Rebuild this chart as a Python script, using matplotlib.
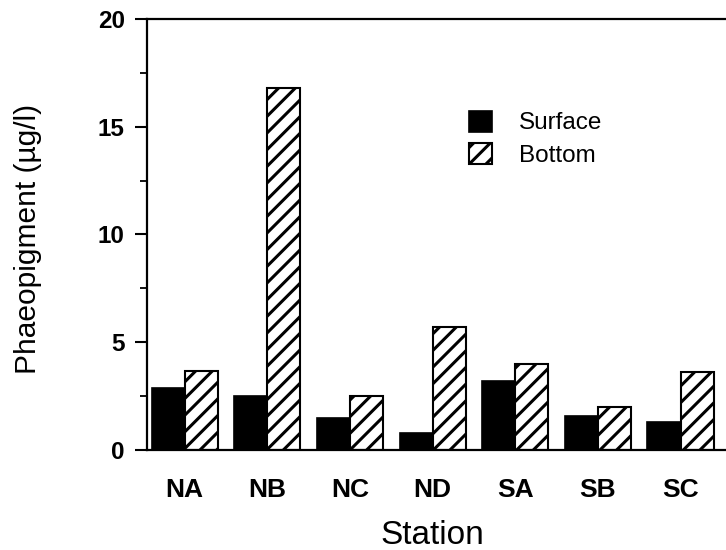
import matplotlib
matplotlib.use("Agg")
import matplotlib.pyplot as plt
import numpy as np

# station data
stations = ["NA", "NB", "NC", "ND", "SA", "SB", "SC"]
surface = [2.9, 2.5, 1.5, 0.8, 3.2, 1.6, 1.3]
bottom = [3.65, 16.8, 2.5, 5.7, 4.0, 2.0, 3.6]
y_ticks = [0, 5, 10, 15, 20]

plt.rcParams["font.family"] = ["Liberation Sans", "DejaVu Sans"]
plt.rcParams["hatch.linewidth"] = 2.2
plt.rcParams["hatch.color"] = "black"


def draw_chart():
    fig = plt.figure(figsize=(7.26, 5.5), dpi=100)
    # axes placed by pixel: left 147, top 19, bottom 450, runs off the right edge
    ax = fig.add_axes([147 / 726, 100 / 550, 1 - 147 / 726, 431 / 550])

    x = np.arange(len(stations))
    w = 0.4
    ax.bar(x - w / 2, surface, w, color="black", edgecolor="black",
           linewidth=1.2, label="Surface")
    ax.bar(x + w / 2, bottom, w, color="white", edgecolor="black",
           linewidth=1.5, hatch="//", label="Bottom")

    ax.set_xlim(-0.456, 6.55)
    ax.set_ylim(0, 20)

    # axes styling like the old print figure
    for side in ["left", "bottom", "top"]:
        ax.spines[side].set_linewidth(1.6)
    ax.spines["right"].set_visible(False)

    ax.set_yticks(y_ticks)
    ax.set_yticks(np.arange(0, 20.1, 2.5), minor=True)
    ax.tick_params(axis="y", which="major", direction="out", length=9,
                   width=1.5, labelsize=17.5, pad=7)
    ax.tick_params(axis="y", which="minor", direction="out", length=5,
                   width=1.3)
    for lbl in ax.get_yticklabels():
        lbl.set_fontweight("bold")

    ax.set_xticks(x)
    ax.set_xticklabels(stations, fontsize=19, fontweight="bold")
    ax.tick_params(axis="x", length=0, pad=20)

    ax.set_xlabel("Station", fontsize=24)
    ax.xaxis.set_label_coords(0.492, -0.163)
    ax.set_ylabel("Phaeopigment (\u00b5g/l)", fontsize=21.5)
    ax.yaxis.set_label_coords(-0.182, 0.49)

    ax.legend(loc="upper left", bbox_to_anchor=(0.54, 0.81), frameon=False,
              borderaxespad=0, fontsize=17.5, handlelength=0.95,
              handleheight=0.95, handletextpad=1.1, labelspacing=0.35)

    fig.savefig("out.png", dpi=100)


def main():
    draw_chart()


if __name__ == "__main__":
    main()
